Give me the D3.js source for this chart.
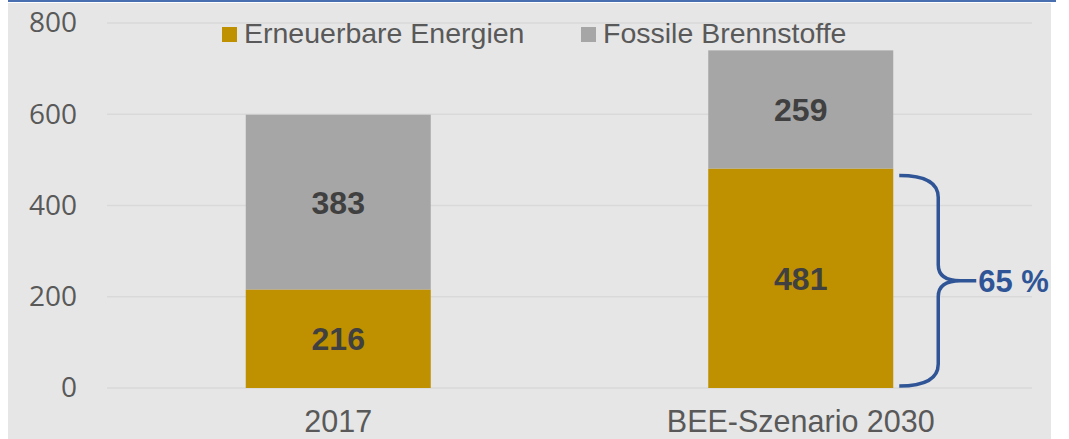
<!DOCTYPE html>
<html>
<head>
<meta charset="utf-8">
<script src="https://cdn.jsdelivr.net/npm/d3@7"></script>
<style>
  body { margin: 0; background: #ffffff; }
  svg { display: block; }
</style>
</head>
<body>
<svg id="chart" width="1069" height="439"></svg>
<script>
// data
const categories = ['2017', 'BEE-Szenario 2030'];
const seriesNames = ['Erneuerbare Energien', 'Fossile Brennstoffe'];
const renewables = [216, 481];
const fossil = [383, 259];
const yTicks = [0, 200, 400, 600, 800];
const shareLabel = '65 %';

const colors = ['#bf9000', '#a6a6a6'];

let svg = d3.select('#chart');

// background panel + top blue rule
svg.append('rect').attr('x', 8).attr('y', 3).attr('width', 1043).attr('height', 436).attr('fill', '#e6e6e6');
svg.append('rect').attr('x', 8).attr('y', 0).attr('width', 1048).attr('height', 2).attr('fill', '#4a6fb0');

let margin = {left: 107, right: 1032, top: 23, bottom: 388};

let x = d3.scaleBand()
    .domain(categories)
    .range([margin.left, margin.right])
    .paddingInner(0.6)
    .paddingOuter(0.3);

let y = d3.scaleLinear()
    .domain([0, 800])
    .range([margin.bottom, margin.top]);

// gridlines
svg.append('g')
    .selectAll('line')
    .data(yTicks)
    .join('line')
    .attr('x1', margin.left)
    .attr('x2', margin.right)
    .attr('y1', d => y(d))
    .attr('y2', d => y(d))
    .attr('stroke', '#d9d9d9')
    .attr('stroke-width', 1.5);

// y axis labels
let yAxis = svg.append('g')
    .attr('transform', 'translate(77,0)')
    .call(d3.axisLeft(y).tickValues(yTicks).tickSize(0).tickPadding(0));
yAxis.select('.domain').remove();
yAxis.selectAll('text')
    .attr('fill', '#595959')
    .style('font-family', '"Open Sans", sans-serif')
    .style('font-size', '28px');

// x axis labels
let xAxis = svg.append('g')
    .attr('transform', 'translate(0,' + margin.bottom + ')')
    .call(d3.axisBottom(x).tickSize(0).tickPadding(0));
xAxis.select('.domain').remove();
xAxis.selectAll('text')
    .attr('dy', null)
    .attr('y', 44)
    .attr('fill', '#595959')
    .style('font-family', '"Liberation Sans", Arial, sans-serif')
    .style('font-size', '30.5px');

// stacked bars
let rows = categories.map((c, i) => ({cat: c, r: renewables[i], f: fossil[i]}));
let stack = d3.stack().keys(['r', 'f'])(rows);

let layers = svg.append('g')
    .selectAll('g')
    .data(stack)
    .join('g')
    .attr('fill', (d, i) => colors[i]);

layers.selectAll('rect')
    .data(d => d)
    .join('rect')
    .attr('x', d => x(d.data.cat))
    .attr('width', x.bandwidth())
    .attr('y', d => y(d[1]))
    .attr('height', d => y(d[0]) - y(d[1]));

layers.selectAll('text')
    .data(d => d)
    .join('text')
    .attr('x', d => x(d.data.cat) + x.bandwidth() / 2)
    .attr('y', d => (y(d[0]) + y(d[1])) / 2)
    .attr('dy', '0.36em')
    .attr('text-anchor', 'middle')
    .attr('fill', '#404040')
    .style('font-family', '"Liberation Sans", Arial, sans-serif')
    .style('font-weight', 'bold')
    .style('font-size', '32px')
    .text(d => d[1] - d[0]);

// legend
let legendX = [222, 581];
let legend = svg.append('g')
    .selectAll('g')
    .data(seriesNames)
    .join('g')
    .attr('transform', (d, i) => 'translate(' + legendX[i] + ',27)');
legend.append('rect')
    .attr('width', 15)
    .attr('height', 15)
    .attr('fill', (d, i) => colors[i]);
legend.append('text')
    .attr('x', 22)
    .attr('y', 16)
    .attr('fill', '#595959')
    .style('font-family', '"Liberation Sans", Arial, sans-serif')
    .style('font-size', '28.5px')
    .text(d => d);

// brace around renewables of 2030
let last = categories.length - 1;
let bx0 = x(categories[last]) + x.bandwidth() + 6;
let bx1 = bx0 + 39;
let tipX = bx1 + 38;
let yTop = y(renewables[last]) + 7;
let yBot = y(0) - 2;
let mid = (yTop + yBot) / 2;

let p = d3.path();
p.moveTo(bx0, yTop);
p.quadraticCurveTo(bx1, yTop, bx1, yTop + 22);
p.lineTo(bx1, mid - 16);
p.quadraticCurveTo(bx1, mid, bx1 + 22, mid);
p.lineTo(tipX, mid);
p.moveTo(bx1 + 22, mid);
p.quadraticCurveTo(bx1, mid, bx1, mid + 16);
p.lineTo(bx1, yBot - 22);
p.quadraticCurveTo(bx1, yBot, bx0, yBot);

svg.append('path')
    .attr('d', p.toString())
    .attr('fill', 'none')
    .attr('stroke', '#2f5597')
    .attr('stroke-width', 3.5);

svg.append('text')
    .attr('x', tipX + 2)
    .attr('y', mid)
    .attr('dy', '0.36em')
    .attr('fill', '#2f5597')
    .style('font-family', '"Liberation Sans", Arial, sans-serif')
    .style('font-weight', 'bold')
    .style('font-size', '31px')
    .text(shareLabel);
</script>
</body>
</html>
